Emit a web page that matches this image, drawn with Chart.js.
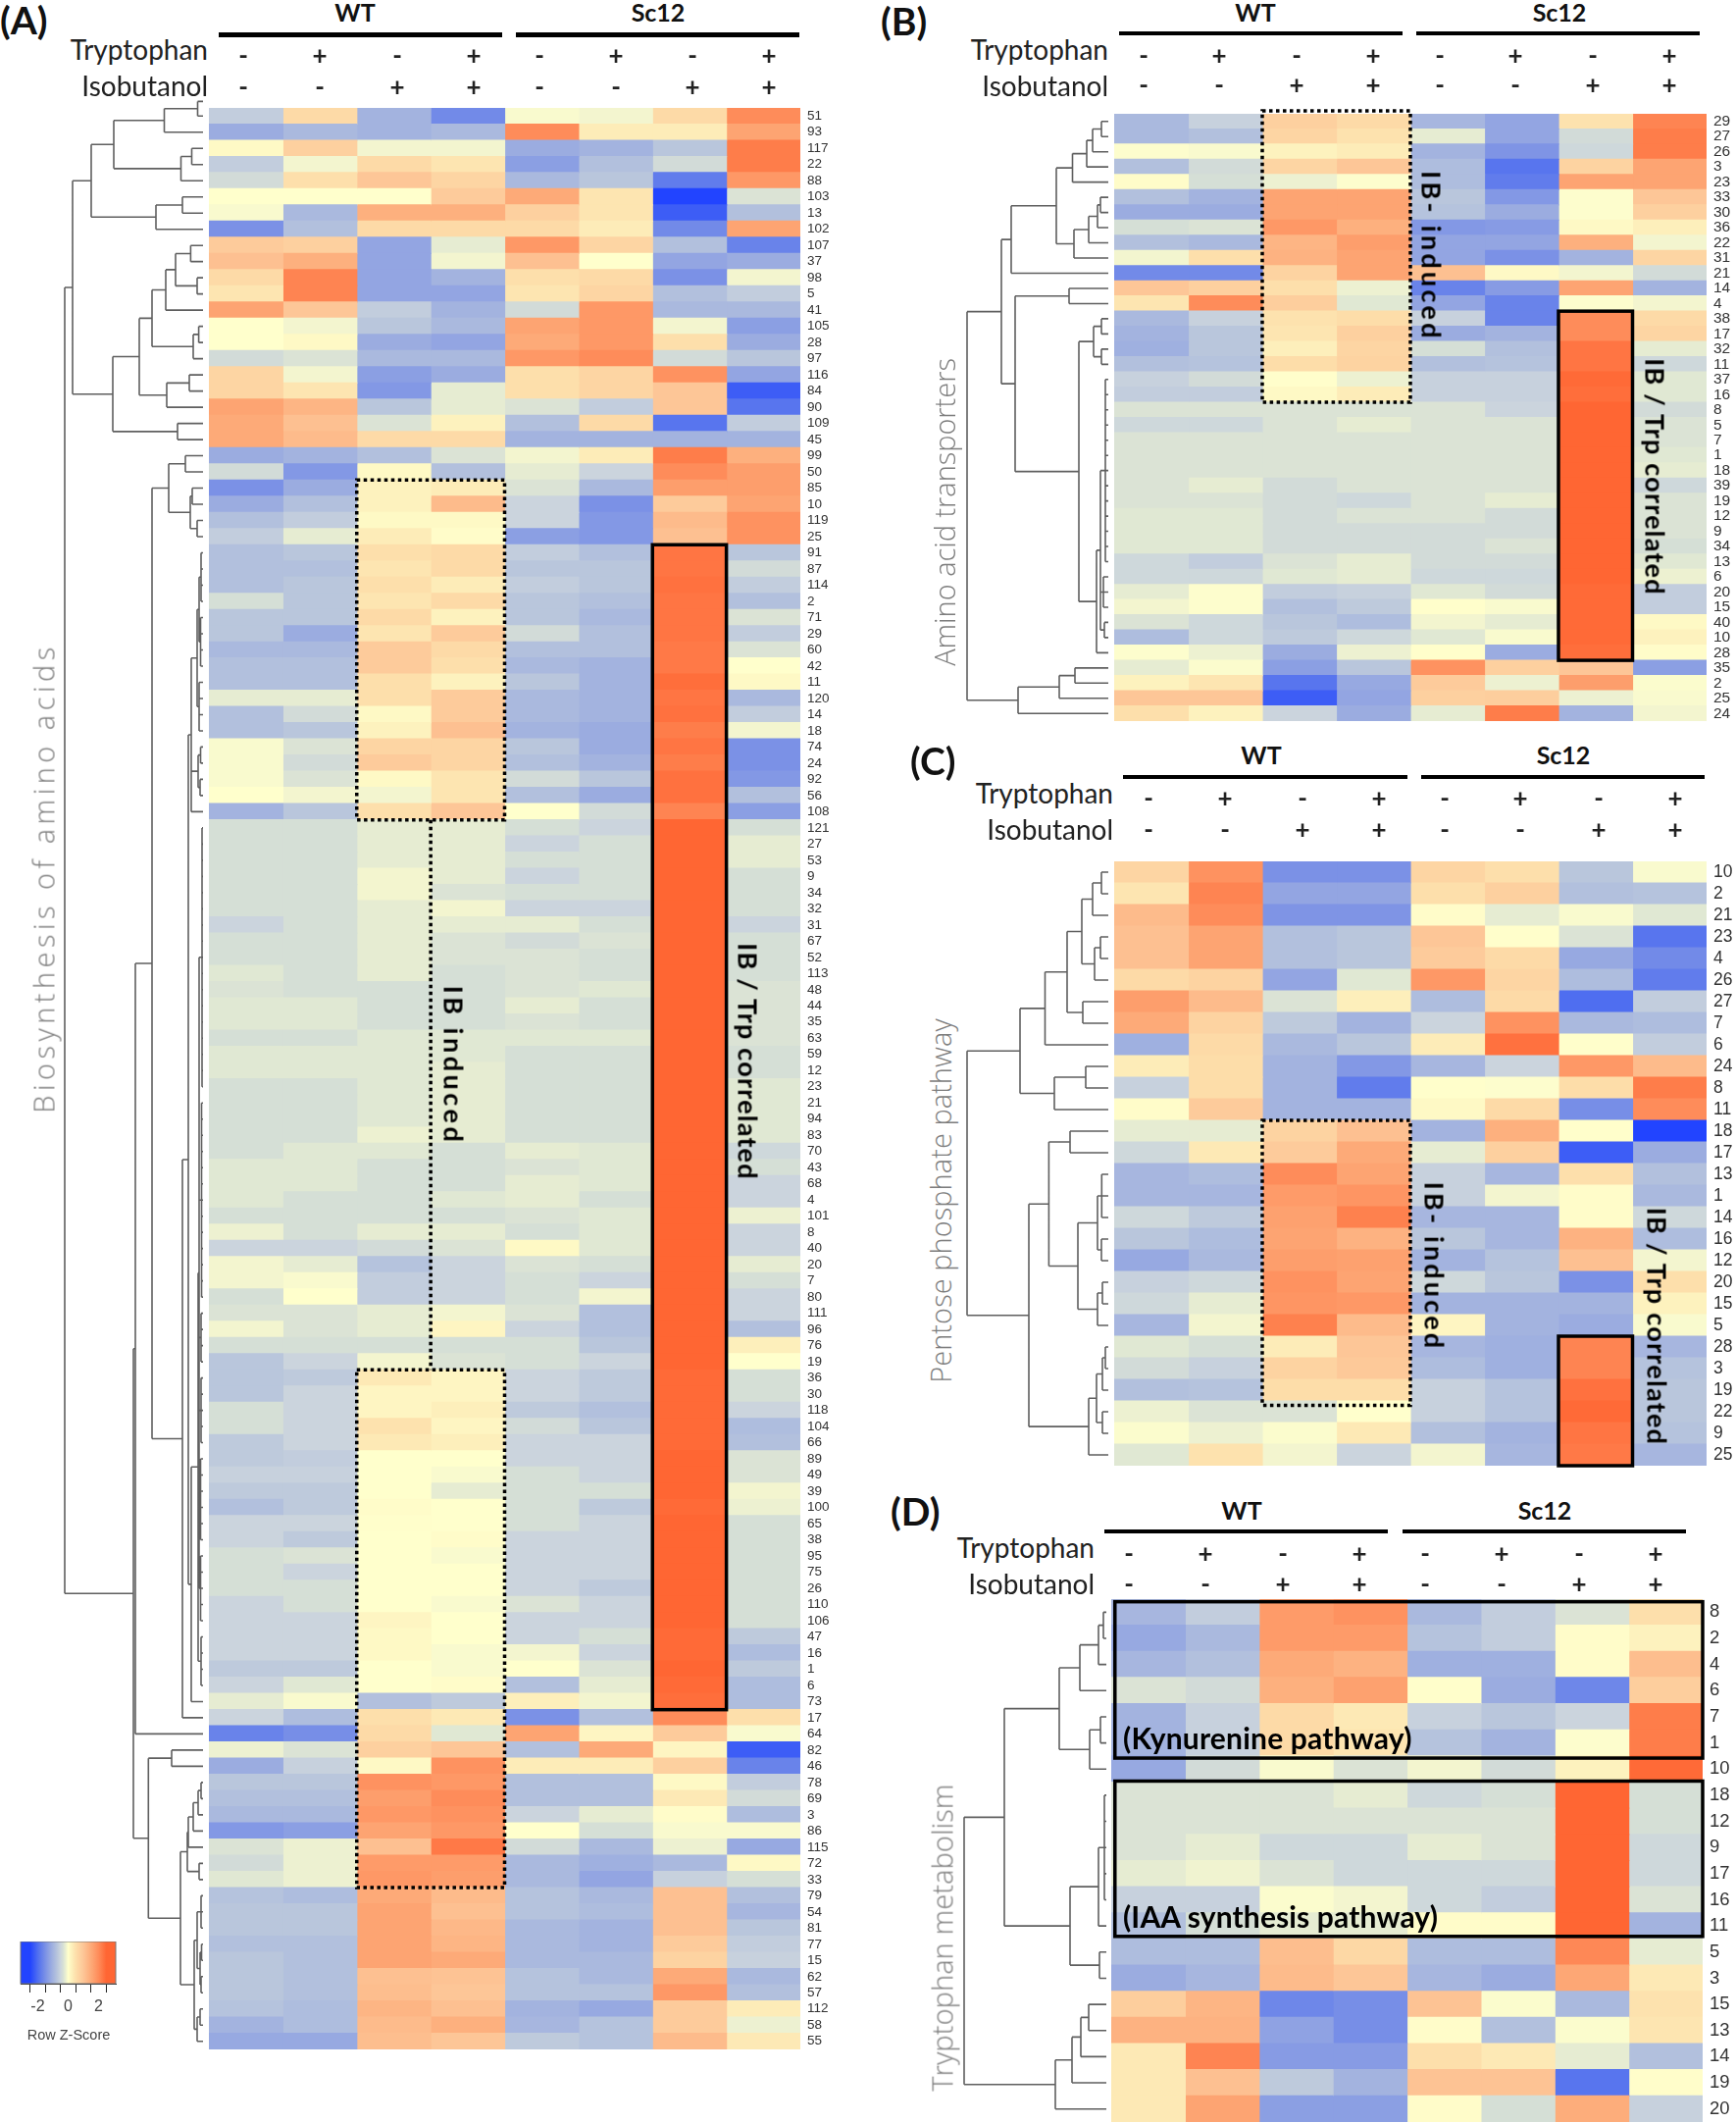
<!DOCTYPE html>
<html>
<head>
<meta charset="utf-8">
<title>Heatmaps</title>
<script src="https://cdn.jsdelivr.net/npm/chart.js@4"></script>
<style>
html, body { margin: 0; background: #fff; }
#page { position: relative; width: 1770px; height: 2164px; overflow: hidden; background: #fff; filter: blur(0.4px); }
canvas { position: absolute; }
.t { position: absolute; white-space: nowrap; line-height: 1; font-family: Lato, sans-serif; color: #111; }
.bar { position: absolute; background: #000; }
</style>
</head>
<body>
<div id="page"></div>
<script>
const strains = ['WT', 'Sc12']
const tryptophan = ['-', '+', '-', '+', '-', '+', '-', '+']
const isobutanol = ['-', '-', '+', '+', '-', '-', '+', '+']

// colour key: z-score -> colour
const keyZ = [-2.5, -2, -1.5, -1, -0.7, -0.5, -0.35, -0.2, -0.1, 0, 0.25, 0.5, 1, 1.5, 2, 2.5]
const keyColors = ['#2244ff', '#4f6ef0', '#7b91e6', '#a3b3df', '#b9c6dc', '#cbd4dd', '#d5dfd6', '#e6ecd2', '#f3f5cf', '#ffffcc', '#fdefbb', '#fddfab', '#fdc697', '#fdaa78', '#fe8c5a', '#ff6633']
const keyTicks = [-2, -1, 0, 1, 2]
const keyTickLabels = ['-2', '', '0', '', '2']

// ─── Panel A ──────────────────────────────────────────────────────────────────
const rowsA = [51,93,117,22,88,103,13,102,107,37,98,5,41,105,28,97,116,84,90,109,45,99,50,85,10,119,25,91,87,114,2,71,29,60,42,11,120,14,18,74,24,92,56,108,121,27,53,9,34,32,31,67,52,113,48,44,35,63,59,12,23,21,94,83,70,43,68,4,101,8,40,20,7,80,111,96,76,19,36,30,118,104,66,89,49,39,100,65,38,95,75,26,110,106,47,16,1,6,73,17,64,82,46,78,69,3,86,115,72,33,79,54,81,77,15,62,57,112,58,55]
const valuesA = [
[-.6,.6,-1,-1.6,-.05,-.1,.6,2],
[-1.1,-.9,-1,-.9,2,.3,.3,1.6],
[.1,.8,-.1,-.1,-1.1,-1,-.7,2.2],
[-.6,-.1,.6,.4,-1.3,-.8,-.4,2.2],
[-.4,.5,1,.7,-.9,-.7,-1.8,1.8],
[0,0,0,.9,1.5,.4,-2.5,-.3],
[-.05,-.9,1.4,1.4,.8,.4,-2.2,-.8],
[-1.5,-.8,.6,.6,.6,.3,-1.6,1.6],
[.9,.8,-1.2,-.2,1.8,.7,-.8,-1.7],
[1.1,1.4,-1.2,-.1,1.1,0,-1.2,-1.1],
[.6,2.1,-1.2,-1,.5,.6,-1.5,-.1],
[.4,2.1,-1.2,-1.2,.4,.7,-.8,-.6],
[1.6,1,-.6,-1,-.4,1.8,-.9,-.9],
[0,-.1,-.7,-.9,1.6,1.8,-.1,-1.3],
[0,.1,-1.1,-1.2,1.5,1.8,.5,-1.1],
[-.4,-.3,-.9,-.9,1.8,2,-.4,-.7],
[.7,-.1,-1.3,-1.1,.5,.7,1.9,-1.2],
[.7,.4,-1.4,-.2,.5,.7,1,-2.2],
[1.6,1.3,-.7,-.2,-.3,-.6,1,-1.9],
[1.5,1.1,-.3,.2,-.8,.6,-1.9,-.6],
[1.5,1.2,.6,.6,-1,-1,-1,-1],
[-1.1,-1,-.8,-.3,-.1,.3,2.2,1.4],
[-.4,-1.4,.1,-.8,-.2,-.5,2,1.7],
[-1.5,-1.1,.2,.3,-.3,-.9,1.7,1.7],
[-1.1,-.8,.2,1.2,-.5,-1.5,.9,1.6],
[-.8,-.6,.1,.1,-.5,-1.4,1.2,1.9],
[-.6,-.2,.3,.05,-1.3,-1.4,1.1,1.9],
[-.8,-.7,.5,.6,-.6,-.8,2.3,-.7],
[-.8,-.8,.4,.6,-.7,-.7,2.3,-.4],
[-.8,-.7,.5,.3,-.6,-.7,2.35,-.6],
[-.35,-.7,.4,.6,-.7,-.8,2.3,-.8],
[-.7,-.7,.6,.2,-.7,-.9,2.3,-.3],
[-.7,-1.1,.4,.9,-.4,-.8,2.3,-.6],
[-.9,-.9,.9,.6,-.8,-.8,2.25,-.3],
[-.8,-.8,.9,.5,-.9,-1,2.25,0],
[-.8,-.8,.5,.2,-.7,-1,2.4,.1],
[-.2,-.2,.5,.9,-.9,-1,2.3,-.9],
[-.8,-.4,.1,.9,-.9,-1,2.35,-.6],
[-.8,-.7,.2,1.1,-1,-1.1,2.2,-.1],
[-.05,-.3,.7,.7,-.7,-1.1,2.3,-1.5],
[-.05,-.4,.9,.7,-.8,-1,2.2,-1.5],
[-.05,-.3,.1,.4,-.4,-.7,2.35,-1.4],
[0,-.1,-.1,.4,-.8,-1.1,2.35,-.8],
[-1,-.7,.5,1,0,-.4,2.1,-1.3],
[-.35,-.35,-.2,-.2,-.35,-.5,2.5,-.35],
[-.35,-.35,-.2,-.2,-.5,-.35,2.5,-.2],
[-.35,-.35,-.2,-.2,-.35,-.35,2.5,-.2],
[-.35,-.35,-.1,-.2,-.5,-.35,2.5,-.35],
[-.35,-.35,-.1,-.3,-.35,-.35,2.5,-.35],
[-.35,-.35,-.2,-.1,-.5,-.5,2.5,-.35],
[-.5,-.35,-.2,-.2,-.2,-.35,2.5,-.5],
[-.35,-.35,-.2,-.3,-.4,-.3,2.5,-.35],
[-.35,-.35,-.2,-.3,-.3,-.35,2.5,-.35],
[-.25,-.35,-.2,-.35,-.3,-.35,2.5,-.35],
[-.3,-.35,-.35,-.35,-.3,-.25,2.5,-.3],
[-.25,-.25,-.35,-.35,-.2,-.35,2.5,-.3],
[-.25,-.25,-.35,-.35,-.3,-.35,2.5,-.3],
[-.35,-.35,-.25,-.25,-.25,-.25,2.5,-.3],
[-.25,-.25,-.25,-.25,-.35,-.35,2.5,-.35],
[-.25,-.25,-.25,-.2,-.35,-.35,2.5,-.35],
[-.35,-.35,-.25,-.2,-.35,-.35,2.5,-.25],
[-.35,-.35,-.25,-.2,-.35,-.35,2.5,-.25],
[-.35,-.35,-.25,-.2,-.35,-.35,2.5,-.25],
[-.35,-.35,-.15,-.2,-.35,-.35,2.5,-.25],
[-.35,-.25,-.25,-.35,-.2,-.25,2.5,-.45],
[-.25,-.25,-.35,-.35,-.3,-.25,2.5,-.35],
[-.25,-.25,-.35,-.35,-.2,-.25,2.5,-.5],
[-.25,-.35,-.35,-.25,-.2,-.35,2.5,-.5],
[-.35,-.35,-.35,-.35,-.3,-.25,2.5,-.15],
[-.15,-.35,-.2,-.2,-.35,-.25,2.5,-.5],
[-.5,-.5,-.4,-.3,.1,-.25,2.5,-.5],
[-.1,-.2,-.75,-.5,-.3,-.35,2.5,-.2],
[-.1,-.05,-.6,-.5,-.35,-.5,2.5,-.35],
[-.35,0,-.6,-.5,-.35,-.1,2.5,-.5],
[-.3,-.3,-.2,-.1,-.3,-.8,2.5,-.5],
[-.1,-.3,-.2,.15,-.5,-.8,2.5,-.8],
[-.35,-.35,-.35,-.35,-.35,-.7,2.5,.25],
[-.7,-.5,-.1,-.3,-.35,-.5,2.5,0],
[-.7,-.65,.35,.15,-.5,-.65,2.45,-.35],
[-.7,-.5,.15,.15,-.5,-.65,2.45,-.35],
[-.35,-.5,.15,.25,-.65,-.8,2.45,-.5],
[-.35,-.5,.45,.15,-.4,-.7,2.45,-.85],
[-.65,-.5,.35,.25,-.5,-.5,2.45,-.8],
[-.65,-.6,0,0,-.5,-.5,2.5,-.3],
[-.55,-.55,0,-.05,-.35,-.5,2.5,-.3],
[-.65,-.65,0,-.2,-.35,-.35,2.5,-.1],
[-.8,-.65,.05,0,-.35,-.65,2.45,-.15],
[-.5,-.5,.02,0,-.35,-.5,2.5,-.35],
[-.5,-.65,0,.05,-.5,-.5,2.5,-.35],
[-.35,-.3,0,-.05,-.5,-.5,2.5,-.35],
[-.35,-.5,0,0,-.5,-.5,2.5,-.35],
[-.35,-.35,0,0,-.5,-.65,2.5,-.35],
[-.5,-.35,0,-.05,-.3,-.5,2.5,-.35],
[-.5,-.5,.15,0,-.5,-.5,2.5,-.35],
[-.5,-.5,.1,0,-.5,-.35,2.45,-.65],
[-.5,-.5,.1,-.05,-.1,-.5,2.45,-.85],
[-.65,-.65,0,-.05,0,-.3,2.5,-.65],
[-.5,-.25,0,.05,-.8,-.2,2.45,-.85],
[-.2,-.05,-.8,-.65,.25,-.1,2.4,-.85],
[-.5,-.85,.5,.35,-1.5,-.8,2,.5],
[-1.7,-1.55,.6,-.25,1.6,.15,.9,-.05],
[-.15,-.3,.8,1,-.8,1.5,.15,-2.2],
[-1.1,-.55,.1,1.9,.3,.3,.8,-1.7],
[-.7,-.7,1.9,1.8,-.8,-.8,.1,-.6],
[-.8,-.8,1.7,2,-.8,-.8,.35,-.4],
[-.9,-.9,1.8,1.9,-.5,-.2,.05,-.85],
[-1.4,-1.3,1.6,1.8,0,-.35,-.05,-.05],
[-.3,-.15,1.1,2.25,-.4,-.9,-.15,-1.15],
[-.4,-.15,1.75,1.75,-.9,-1.05,-.9,.1],
[-.25,-.15,1.8,1.7,-.9,-1.2,-.55,-.35],
[-.75,-.85,1.5,1.2,-.75,-.9,1.1,-.8],
[-.7,-.7,1.6,1.1,-.75,-.85,1.1,-.95],
[-.7,-.7,1.6,1.25,-.9,-1,1.1,-.7],
[-.8,-.8,1.6,1.3,-.9,-1,.9,-.6],
[-.7,-.8,1.6,1.5,-.9,-.9,.75,-.55],
[-.7,-.8,1.1,1.05,-.75,-.9,1.5,-.9],
[-.7,-.8,1.15,1,-.75,-.75,1.8,-.8],
[-.75,-.85,1.3,1.1,-1,-1.15,.9,.3],
[-1,-.85,1.2,1.4,-.95,-.75,.9,-.15],
[-1.15,-1.15,1.15,1,-.65,-.75,1.2,.35],
]
// tree node: [merge distance, ...children], a plain number is a row (leaf)
const treeA = [141,
  [133,
    [114,
      [91, [39.5, [5.5, -0.9, 0], 1], [22.5, [11.5, 2, 3], 4]],
      [48, [21, 5, 6], 7]],
    [92,
      [65,
        [52, [38, [28, [12.6, 8, 9], [6, 10, 11]], 12], [10, [4.4, 13, 14], 15]],
        [37, [14, 16, 17], 18]],
      [26, 19, 20]]],
  [71,
    [69,
      [52,
        [35, [18, 21, 22], [13, [11, 23, 24], [6, 25, 26]]],
        [21,
          [15,
            [12,
              [6, [4, [2, 27, 28, 29, 30], [2.5, 31, 32, 33, 34]], [4, 35, 36, 37, 38]],
              [5, [2.5, 39, 40], [3, 41, 42]],
              43],
            [12,
              [5,
                [4,
                  [1, 44, 45, 46, 47, 48, 49, 50, 51, 52, 53, 54, 55, 56, 57, 58, 59, 60],
                  [1.5, 61, 62, 63, 64, 65, 66, 67, 68, 69, 70, 71, 72, 73],
                  [2, 74, 75, 76, 77],
                  [2, 78, 79, 80, 81, 82],
                  [2.5, 83, 84, 85, 86, 87, 88],
                  [2.5, 89, 90, 91, 92, 93]],
                [2, 94, 95, 96, 97]],
              98]],
          99]],
      100],
    [55.7,
      [32, 101, 102],
      [23,
        [16, [15, [10, [5, [2, 103, 104], 105], 106], 107], [4, 108, 109]],
        [9, [6, [2, 110, 111, 112], [3, [1.5, 113, 114], [2, 115, 116]]], [6, [3, 117, 118], 119]]]]]]

// ─── Panel B ──────────────────────────────────────────────────────────────────
const rowsB = [29,27,26,3,23,33,30,36,22,31,21,14,4,38,17,32,11,37,16,8,5,7,1,18,39,19,12,9,34,13,6,20,15,40,10,28,35,2,25,24]
const valuesB = [
[-.9,-.55,.8,.6,-.95,-1.2,.45,2.1],
[-.9,-.8,.7,.45,-.2,-1.2,-.4,2.2],
[-.02,-.05,.2,.3,-1,-1.45,-.45,2.2],
[-.8,-.4,.7,1,-.85,-1.9,.75,1.6],
[.05,-.35,-.15,-.02,-.85,-1.8,1.6,1.6],
[-.8,-1,1.6,1.6,-.7,-1.4,-.02,1],
[-1.1,-1.1,1.6,1.6,-.75,-1.1,-.02,.8],
[-.35,-.3,1.8,1.4,-1.4,-1.35,.1,.25],
[-.8,-.9,1.3,1.7,-1.2,-1.2,1.4,-.1],
[-.1,.5,1.35,1.6,-1.2,-1.5,-1,.7],
[-1.6,-1.6,.75,1.6,1.1,.1,-.1,-.4],
[1,.8,.5,-.15,-1.7,-1.35,1.6,-1],
[.4,2,.85,-.25,-1.2,-1.7,-.02,-.1],
[-.9,-.55,.45,.55,-.55,-1.7,2,.6],
[-1,-.7,.4,.8,-1.1,-1,2,.7],
[-1.05,-.7,.25,.7,-.35,-.8,2.3,-.2],
[-.8,-.75,.55,.75,-.8,-.75,2.3,-.45],
[-.55,-.4,.02,-.15,-.55,-.55,2.45,-.25],
[-.6,-.6,.1,.3,-.55,-.55,2.4,-.25],
[-.3,-.3,-.3,-.3,-.3,-.5,2.5,-.4],
[-.45,-.45,-.3,-.2,-.3,-.3,2.5,-.3],
[-.3,-.3,-.3,-.3,-.3,-.3,2.5,-.3],
[-.3,-.3,-.3,-.3,-.3,-.3,2.5,-.25],
[-.3,-.3,-.3,-.3,-.3,-.3,2.5,-.2],
[-.3,-.2,-.4,-.3,-.3,-.3,2.5,-.45],
[-.3,-.3,-.4,-.45,-.3,-.2,2.5,-.3],
[-.25,-.25,-.4,-.3,-.3,-.4,2.5,-.3],
[-.25,-.25,-.4,-.4,-.4,-.4,2.5,-.3],
[-.25,-.25,-.4,-.4,-.4,-.3,2.5,-.35],
[-.45,-.6,-.3,-.2,-.4,-.4,2.5,-.25],
[-.45,-.45,-.25,-.2,-.45,-.45,2.5,-.15],
[-.2,-.02,-.6,-.55,-.25,-.4,2.45,-.6],
[-.1,-.02,-.8,-.65,.02,-.05,2.45,-.6],
[-.3,-.45,-.7,-.85,-.1,-.2,2.45,.1],
[-.85,-.45,-.65,-.45,-.25,-.05,2.45,.2],
[-.02,-.15,-1.1,-.15,.02,-1.1,2.4,.05],
[-.2,-.03,-1.3,-.7,1.9,.8,1,-1.3],
[.2,.4,-1.9,-1.15,.9,-.15,1.7,-.03],
[1,1,-2.2,-1.2,.8,.85,-.15,-.05],
[.5,.2,-.5,-1.1,-.2,2.2,-1,-.1],
]
const treeB = [144,
  [109,
    [99,
      [53,
        [36.5, [22, [16, [7, 0, 1], 2], 3], 4],
        [35, [20, [11, [8, 5, 6], 7], 8], 9]],
      10],
    [95,
      [40, 11, 12],
      [30,
        [15, [7, 13, 14], [7, 15, 16]],
        [12,
          [8,
            [3, 17, 18, 19, 20, 21, 22, 23, 24, 25, 26, 27, 28, 29],
            [5, 30, 31, 32],
            [4, 33, 34]],
          35]]]],
  [92, [50, [34, 36, 37], 38], 39]]

// ─── Panel C ──────────────────────────────────────────────────────────────────
const rowsC = [10,2,21,23,4,26,27,7,6,24,8,11,18,17,13,1,14,16,12,20,15,5,28,3,19,22,9,25]
const valuesC = [
[.7,1.9,-1.5,-1.5,.7,.5,-.7,-.05],
[.4,2.1,-1.2,-1.2,.5,.8,-.8,-.75],
[1.2,2,-1.45,-1.45,.05,-.2,-.05,-.25],
[1.1,1.6,-.8,-.7,1,.02,-.3,-1.9],
[1.1,1.6,-.8,-.7,.9,.6,-1.15,-1.6],
[.6,.75,-1.2,-.25,1.8,.7,-.85,-1.8],
[1.7,1.2,-.3,.25,-.85,.6,-2,-.6],
[1.5,.75,-.65,-1,-.5,1.9,-.9,-.85],
[-1.05,.6,-.9,-.7,.3,2.35,.02,-.6],
[.3,.55,-1,-1.4,-.95,-.5,1.8,1.2],
[-.55,.55,-1,-1.8,.02,-.02,.55,2.2],
[.05,.9,-1,-1,.1,.6,-1.55,2],
[-.2,-.2,.75,1.1,-1,1.4,.02,-2.5],
[-.45,.35,.9,1.5,-.2,.8,-2.2,-1.1],
[-.95,-.85,2,1.6,-.55,-.95,.5,-.8],
[-.95,-.95,1.75,1.85,-.55,-.1,.05,-.9],
[-.45,-.65,1.65,2.15,-.95,-.95,.05,-.45],
[-.7,-.85,1.6,1.35,-.7,-.95,1.35,-.85],
[-1.15,-.9,1.7,1.65,-1,-.75,1.1,-.1],
[-.55,-.45,1.9,1.6,-.45,-.7,-1.5,.5],
[-.45,-.2,1.85,1.8,-1,-1,-1,.2],
[-.95,-.1,2.15,1.2,.15,-1,-1.1,-.05],
[-.25,-.35,.3,1,-.95,-1.05,2.1,-.95],
[-.4,-.55,.75,.95,-.85,-1.05,2.1,-.75],
[-.8,-.75,.55,.55,-.55,-.75,2.35,-.7],
[-.15,-.3,-.3,0,-.55,-.75,2.45,-.7],
[-.03,-.15,-.03,.35,-.8,-1,2.3,-.75],
[-.25,.45,-.1,-.5,-.1,-.95,2.25,-.95],
]
const treeC = [144,
  [90,
    [64.5,
      [42,
        [27, [16, [7, 0, 1], 2], [14, [8, 3, 4], 5]],
        [26, 6, 7]],
      8],
    [55, [23, 9, 10], 11]],
  [81,
    [60.6,
      [39, 12, 13],
      [31,
        [11, [6.7, 14, 15, 16], [7, 17, 18]],
        [11, [6, 19, 20], 21]]],
    [20, [12, [6, [3, 22, 23], 24], [6, 25, 26]], 27]]]

// ─── Panel D ──────────────────────────────────────────────────────────────────
const rowsD = [8,2,4,6,7,1,10,18,12,9,17,16,11,5,3,15,13,14,19,20]
const valuesD = [
[-.95,-.6,1.75,1.9,-.9,-.6,-.3,.5],
[-1.15,-.9,1.75,1.75,-.75,-.6,.05,.2],
[-.95,-.8,1.5,1.35,-1.05,-1.05,.05,1.15],
[-.3,-.4,1.4,1.65,.02,-1.1,-1.65,.85],
[-1,-.55,.6,.35,-.55,-.7,-.5,2.2],
[-1,-.55,.6,.4,-.75,-1,-.02,2.2],
[-1.15,-.4,-.05,-.3,-.1,-.4,.2,2.45],
[-.3,-.3,-.3,-.2,-.45,-.35,2.5,-.35],
[-.3,-.3,-.3,-.3,-.3,-.3,2.5,-.35],
[-.3,-.2,-.45,-.45,-.2,-.3,2.5,-.45],
[-.2,-.12,-.3,-.45,-.45,-.45,2.5,-.45],
[-.55,-.55,-.03,-.1,-.45,-.6,2.5,-.3],
[-.8,-.35,-.2,-.2,.05,.05,2.5,-1],
[-.85,-.85,1.15,.65,-.85,-.85,2.05,-.2],
[-1.1,-.95,1.2,1,-.95,-1.1,1.55,.35],
[.85,1.3,-1.65,-1.55,1.05,-.03,-.9,.45],
[1.35,1.35,-1.25,-1.55,.05,-.8,-.03,.4],
[.35,2.1,-1.35,-1.35,.5,.35,-.2,-.8],
[.35,1.1,-.65,-1,1.05,1.05,-1.9,.03],
[.35,1.6,-1.3,-1.3,.05,-.35,1.45,-.55],
]
const treeD = [145,
  [104,
    [48,
      [27, [8, [3, 0, 1], 2], 3],
      [17, [6, 4, 5], 6]],
    [37,
      [8, [2, 7, 8, 9, 10, 11], 12],
      [7, 13, 14]]],
  [52,
    [35, [26, [18, 15, 16], 17], 18],
    19]]

// ─── Layout of the panels ─────────────────────────────────────────────────────
const panels = [
  {
    id: 'A', rows: rowsA, values: valuesA, tree: treeA,
    left: 213, right: 816, top: 110, bottom: 2089, leaf: 207, treeW: 150, labelFont: 13.5, labelW: 34,
    letter: [0, 20], head: { y: 12, wt: 362, sc: 671, bars: [223, 512, 526, 815], barY: 33, barH: 5 },
    textRight: 212, trpY: 50, isoY: 87, signY: [56, 88], signX: [248, 326, 405, 483, 550, 628, 706, 784],
    dotted: [[2, 4, 23, 44], [2, 4, 78, 110]], dottedLine: [3, 44, 78], solid: [[6, 7, 27, 99]],
    sideLabel: { text: 'Biosynthesis of amino acids', x: 44, y1: 655, y2: 1134 },
    notes: [
      { text: 'IB induced', x: 463, y1: 1004, y2: 1167 },
      { text: 'IB / Trp correlated', x: 763, y1: 961, y2: 1202 },
    ],
  },
  {
    id: 'B', rows: rowsB, values: valuesB, tree: treeB,
    left: 1136, right: 1740, top: 116, bottom: 735, leaf: 1130, treeW: 150, labelFont: 15.5, labelW: 30,
    letter: [898, 21], head: { y: 12, wt: 1280, sc: 1590, bars: [1141, 1430, 1444, 1733], barY: 32, barH: 4 },
    textRight: 1130, trpY: 50, isoY: 87, signY: [56, 86], signX: [1166, 1243, 1322, 1400, 1468, 1545, 1624, 1702],
    dotted: [[2, 4, -0.2, 19]], solid: [[6, 7, 13, 36]],
    sideLabel: { text: 'Amino acid transporters', x: 962, y1: 365, y2: 679 },
    notes: [
      { text: 'IB- induced', x: 1460, y1: 174, y2: 348 },
      { text: 'IB / Trp correlated', x: 1688, y1: 365, y2: 606 },
    ],
  },
  {
    id: 'C', rows: rowsC, values: valuesC, tree: treeC,
    left: 1136, right: 1740, top: 877.5, bottom: 1494, leaf: 1130, treeW: 150, labelFont: 17.5, labelW: 30,
    letter: [928, 775], head: { y: 769, wt: 1286, sc: 1594, bars: [1145, 1435, 1449, 1738], barY: 790, barH: 4 },
    textRight: 1135, trpY: 808, isoY: 845, signY: [813, 845], signX: [1171, 1249, 1328, 1406, 1473, 1550, 1630, 1708],
    dotted: [[2, 4, 12, 25.2]], solid: [[6, 7, 22, 28]],
    sideLabel: { text: 'Pentose phosphate pathway', x: 958, y1: 1038, y2: 1410 },
    notes: [
      { text: 'IB- induced', x: 1463, y1: 1204, y2: 1377 },
      { text: 'IB / Trp correlated', x: 1690, y1: 1231, y2: 1473 },
    ],
  },
  {
    id: 'D', rows: rowsD, values: valuesD, tree: treeD,
    left: 1133, right: 1736, top: 1630, bottom: 2163, leaf: 1128, treeW: 150, labelFont: 18.5, labelW: 34,
    letter: [908, 1540], head: { y: 1539, wt: 1266, sc: 1575, bars: [1126, 1415, 1430, 1719], barY: 1559, barH: 4 },
    textRight: 1116, trpY: 1577, isoY: 1614, signY: [1583, 1614], signX: [1151, 1229, 1308, 1386, 1453, 1531, 1610, 1688],
    dotted: [], solid: [[0.05, 8, 0.1, 6.08], [0.05, 8, 6.96, 12.9]],
    sideLabel: { text: 'Tryptophan metabolism', x: 960, y1: 1818, y2: 2131 },
    notes: [],
    inline: [
      { text: '(Kynurenine pathway)', x1: 1145, x2: 1440, y: 1771 },
      { text: '(IAA synthesis pathway)', x1: 1145, x2: 1466, y: 1953 },
    ],
  },
]

// ─── Helpers ──────────────────────────────────────────────────────────────────
const page = document.getElementById('page')

function hexRgb(h) {
  return [1, 3, 5].map(i => parseInt(h.slice(i, i + 2), 16))
}

function zColor(z) {
  let i = 0
  while (i < keyZ.length - 2 && z > keyZ[i + 1]) i++
  const t = Math.max(0, Math.min(1, (z - keyZ[i]) / (keyZ[i + 1] - keyZ[i])))
  const a = hexRgb(keyColors[i]), b = hexRgb(keyColors[i + 1])
  return `rgb(${a.map((v, k) => Math.round(v + (b[k] - v) * t)).join(',')})`
}

function addCanvas(left, top, w, h) {
  const c = document.createElement('canvas')
  c.width = w
  c.height = h
  c.style.left = left + 'px'
  c.style.top = top + 'px'
  page.appendChild(c)
  return c
}

function addText(text, o) {
  const el = document.createElement('div')
  el.className = 't'
  el.textContent = text
  el.style.left = o.x + 'px'
  el.style.top = o.y + 'px'
  el.style.fontSize = o.size + 'px'
  if (o.weight) el.style.fontWeight = o.weight
  if (o.color) el.style.color = o.color
  if (o.font) el.style.fontFamily = o.font
  el.style.transform = `translate(${o.ax || '-50%'}, -50%) rotate(${o.rot || 0}deg)`
  page.appendChild(el)
  if (o.len) {
    const gap = (o.len - el.offsetWidth) / text.length
    el.style.letterSpacing = gap + 'px'
  }
  return el
}

// turn a tree into line pieces, broken by NaN points
function treeLines(node, out) {
  if (typeof node === 'number') return { y: node, d: 0 }
  const d = node[0]
  const kids = node.slice(1).map(k => treeLines(k, out))
  kids.forEach(k => out.push({ x: k.d, y: k.y }, { x: d, y: k.y }, { x: NaN, y: NaN }))
  const y1 = kids[0].y, y2 = kids[kids.length - 1].y
  out.push({ x: d, y: y1 }, { x: d, y: y2 }, { x: NaN, y: NaN })
  return { y: (y1 + y2) / 2, d }
}

const boxesPlugin = {
  id: 'boxes',
  afterDatasetsDraw(chart, args, opts) {
    const { ctx, scales: { x, y } } = chart
    const px = c => x.getPixelForValue(c)
    const py = r => y.getPixelForValue(r - 0.5)
    ctx.save()
    ctx.strokeStyle = '#000'
    ctx.lineWidth = 3.5
    ctx.setLineDash([])
    ;(opts.solid || []).forEach(b => ctx.strokeRect(px(b[0]), py(b[2]), px(b[1]) - px(b[0]), py(b[3]) - py(b[2])))
    ctx.setLineDash([3.5, 3.5])
    ;(opts.dotted || []).forEach(b => ctx.strokeRect(px(b[0]), py(b[2]), px(b[1]) - px(b[0]), py(b[3]) - py(b[2])))
    if (opts.dottedLine) {
      const l = opts.dottedLine
      ctx.beginPath()
      ctx.moveTo(px(l[0]), py(l[1]))
      ctx.lineTo(px(l[0]), py(l[2]))
      ctx.stroke()
    }
    ctx.restore()
  },
}

// ─── Drawing ──────────────────────────────────────────────────────────────────
function drawHeat(p) {
  const pad = 6
  const w = p.right - p.left, h = p.bottom - p.top
  const canvas = addCanvas(p.left - pad, p.top - pad, w + p.labelW + pad, h + pad * 2)
  const labels = p.rows.map(String)
  const datasets = tryptophan.map((_, c) => ({
    data: p.values.map(() => [c, c + 1]),
    backgroundColor: p.values.map(r => zColor(r[c])),
    borderWidth: 0,
    inflateAmount: 0.6,
    grouped: false,
    barPercentage: 1,
    categoryPercentage: 1,
  }))
  new Chart(canvas, {
    type: 'bar',
    data: { labels, datasets },
    plugins: [boxesPlugin],
    options: {
      indexAxis: 'y',
      responsive: false,
      animation: false,
      layout: { padding: { top: pad, bottom: pad, left: pad, right: 0 } },
      plugins: {
        legend: { display: false },
        tooltip: { enabled: false },
        boxes: { solid: p.solid, dotted: p.dotted, dottedLine: p.dottedLine },
      },
      scales: {
        x: { type: 'linear', min: 0, max: 8, display: false },
        y: {
          position: 'right',
          // keep the plot area exact: no room added for half a tick label
          afterFit: s => { s.width = p.labelW; s.paddingTop = 0; s.paddingBottom = 0 },
          grid: { display: false, drawTicks: false },
          border: { display: false },
          ticks: {
            autoSkip: false,
            padding: 7,
            color: '#333',
            font: { family: '"Liberation Sans", Arial, sans-serif', size: p.labelFont },
          },
        },
      },
    },
  })
}

function drawTree(p) {
  const padTop = 24
  const h = p.bottom - p.top
  const canvas = addCanvas(p.leaf - p.treeW, p.top - padTop, p.treeW, h + padTop + 4)
  const pts = []
  treeLines(p.tree, pts)
  new Chart(canvas, {
    type: 'scatter',
    data: {
      datasets: [{
        data: pts,
        showLine: true,
        spanGaps: false,
        pointRadius: 0,
        borderColor: '#5f5f5f',
        borderWidth: 1.6,
        clip: false,
      }],
    },
    options: {
      responsive: false,
      animation: false,
      layout: { padding: { top: padTop, bottom: 4, left: 0, right: 0 } },
      plugins: { legend: { display: false }, tooltip: { enabled: false } },
      scales: {
        x: { type: 'linear', min: 0, max: p.treeW, reverse: true, display: false },
        y: { type: 'linear', min: -0.5, max: p.rows.length - 0.5, reverse: true, display: false },
      },
    },
  })
}

function drawHeader(p) {
  addText('(' + p.id + ')', { x: p.letter[0], y: p.letter[1], ax: '0', size: 39, weight: 700 })
  addText(strains[0], { x: p.head.wt, y: p.head.y, size: 25, weight: 700 })
  addText(strains[1], { x: p.head.sc, y: p.head.y, size: 25, weight: 700 })
  for (let i = 0; i < 2; i++) {
    const b = document.createElement('div')
    b.className = 'bar'
    b.style.left = p.head.bars[i * 2] + 'px'
    b.style.width = p.head.bars[i * 2 + 1] - p.head.bars[i * 2] + 'px'
    b.style.top = p.head.barY + 'px'
    b.style.height = p.head.barH + 'px'
    page.appendChild(b)
  }
  addText('Tryptophan', { x: p.textRight, y: p.trpY, ax: '-100%', size: 28, color: '#222' })
  addText('Isobutanol', { x: p.textRight, y: p.isoY, ax: '-100%', size: 28, color: '#222' })
  p.signX.forEach((x, i) => {
    addText(tryptophan[i], { x, y: p.signY[0], size: 26, weight: 700, color: '#222' })
    addText(isobutanol[i], { x, y: p.signY[1], size: 26, weight: 700, color: '#222' })
  })
  const s = p.sideLabel
  addText(s.text, { x: s.x, y: (s.y1 + s.y2) / 2, size: 29, rot: -90, weight: 300, color: '#7d7d7d', font: '"Open Sans", sans-serif', len: s.y2 - s.y1 })
  p.notes.forEach(n => {
    addText(n.text, { x: n.x, y: (n.y1 + n.y2) / 2, size: 27, rot: 90, weight: 700, color: '#000', len: n.y2 - n.y1 })
  })
  ;(p.inline || []).forEach(n => {
    addText(n.text, { x: n.x1, y: n.y, ax: '0', size: 30, weight: 700, color: '#000', len: n.x2 - n.x1 })
  })
}

function drawKey() {
  const left = 21, right = 118, top = 1979, bottom = 2022
  const canvas = addCanvas(left - 6, top, right - left + 12, bottom - top + 42)
  const keyPlugin = {
    id: 'keyBar',
    beforeDatasetsDraw(chart) {
      const { ctx, chartArea: a, scales: { x } } = chart
      const g = ctx.createLinearGradient(a.left, 0, a.right, 0)
      keyZ.forEach((z, i) => g.addColorStop((x.getPixelForValue(z) - a.left) / a.width, keyColors[i]))
      ctx.save()
      ctx.fillStyle = g
      ctx.fillRect(a.left, a.top, a.width, a.height)
      ctx.strokeStyle = '#777'
      ctx.strokeRect(a.left, a.top, a.width, a.height)
      ctx.restore()
    },
    afterDraw(chart) {
      const { ctx, chartArea: a, scales: { x } } = chart
      ctx.save()
      ctx.fillStyle = '#444'
      ctx.font = '16px "Liberation Sans", Arial, sans-serif'
      ctx.textAlign = 'center'
      ctx.textBaseline = 'middle'
      keyTicks.forEach((v, i) => ctx.fillText(keyTickLabels[i], x.getPixelForValue(v), a.bottom + 24))
      ctx.restore()
    },
  }
  new Chart(canvas, {
    type: 'bar',
    data: { labels: [], datasets: [] },
    plugins: [keyPlugin],
    options: {
      responsive: false,
      animation: false,
      layout: { padding: { left: 6, right: 6, top: 0, bottom: 0 } },
      plugins: { legend: { display: false }, tooltip: { enabled: false } },
      scales: {
        x: {
          type: 'linear', min: -2.5, max: 2.5,
          afterBuildTicks: s => { s.ticks = keyTicks.map(value => ({ value })) },
          afterFit: s => { s.height = 42 },
          grid: { display: true, drawOnChartArea: false, tickLength: 9, color: '#222' },
          border: { display: true, color: '#222' },
          ticks: { display: false },
        },
        y: { display: false },
      },
    },
  })
  addText('Row Z-Score', { x: 70, y: 2074, size: 14.5, color: '#444', font: '"Liberation Sans", Arial, sans-serif' })
}

panels.forEach(p => {
  drawTree(p)
  drawHeat(p)
  drawHeader(p)
})
drawKey()
</script>
</body>
</html>
